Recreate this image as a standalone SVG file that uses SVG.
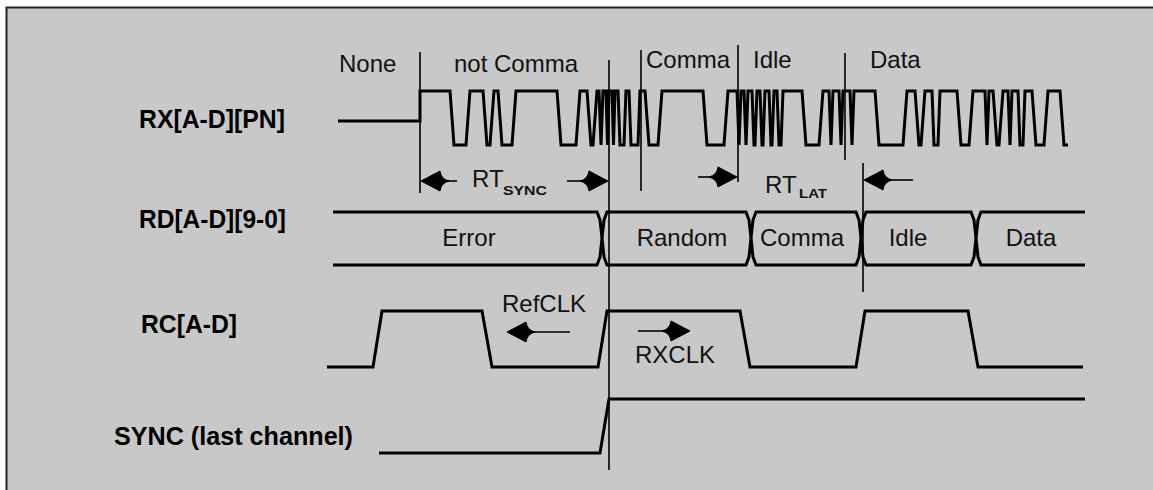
<svg xmlns="http://www.w3.org/2000/svg" xmlns:xlink="http://www.w3.org/1999/xlink" width="1153" height="490" viewBox="0 0 1153 490">
<style>
.wave{fill:none;stroke:#000;stroke-width:3;stroke-linejoin:miter}
.mark{fill:none;stroke:#000;stroke-width:1.6}
.shaft{fill:none;stroke:#000;stroke-width:1.6}
.head{fill:#000;stroke:#000;stroke-width:1}
.lbl{font-family:"Liberation Sans",Arial,sans-serif;font-weight:bold;font-size:25px;fill:#000}
.t{font-family:"Liberation Sans",Arial,sans-serif;font-size:24px;fill:#111}
.sub{font-family:"Liberation Sans",Arial,sans-serif;font-size:12px;font-weight:bold;fill:#111}
</style>
<defs>
<path id="head" class="head" d="M0,0 L-19,-10 Q-20,-2 -28,0 Q-20,2 -19,10 Z"/>
</defs>
<rect x="0" y="0" width="1153" height="490" fill="#fff"/>
<rect x="7" y="8" width="1146" height="482" fill="#c8c8c8"/>
<path d="M6.5,490 L6.5,7.5 L1153,7.5" fill="none" stroke="#222" stroke-width="2"/>

<g id="labels">
<text class="lbl" x="139" y="128" textLength="146" lengthAdjust="spacingAndGlyphs">RX[A-D][PN]</text>
<text class="lbl" x="139" y="228" textLength="147" lengthAdjust="spacingAndGlyphs">RD[A-D][9-0]</text>
<text class="lbl" x="141" y="333" textLength="96" lengthAdjust="spacingAndGlyphs">RC[A-D]</text>
<text class="lbl" x="114" y="445" textLength="239" lengthAdjust="spacingAndGlyphs">SYNC (last channel)</text>
</g>

<g id="rx">
<polyline class="wave" points="338,121 420,121 420,91 450,91 454,145 466,145 470,91 483,91 487,145 490,145 494,91 498,91 502,145 512,145 516,91 557,91 561,145 576,145 580,91 587,91 591,145 593,145 597,91 599,91 601,145 603,91 606,91 607.5,145 609,91 612,91 613.5,145 615,91 618,91 620,145 624,145 626,91 629,91 631,145 638,145 640,91 645,91 649,145 658,145 662,91 703,91 707,145 724,145 728,91 737,91 739,145 741,91 744,91 746,145 748,91 752,91 754,145 755,145 757,91 760,91 762,145 763,145 765,91 769,91 771,145 772,145 774,91 777,91 779,145 781,145 783,91 802,91 806,145 819,145 823,91 829,91 831,145 833,91 839,91 841,145 843,91 850,91 852,145 854,91 875,91 879,145 903,145 907,91 915,91 919,145 921,145 925,91 932,91 934,145 938,145 940,91 957,91 961,145 969,145 973,91 985,91 987,145 989,91 993,91 997,145 999,145 1003,91 1008,91 1010,145 1012,91 1018,91 1020,145 1023,145 1025,91 1032,91 1036,145 1044,145 1048,91 1060,91 1064,145 1068,145"/>
<text class="t" x="339" y="72">None</text>
<text class="t" x="454" y="72">not Comma</text>
<text class="t" x="646" y="68">Comma</text>
<text class="t" x="753" y="68">Idle</text>
<text class="t" x="870" y="68">Data</text>
</g>

<g id="rd">
<path class="wave" d="M333,212 L597,212 L600,220 L602,238 L604,220 L607,212 L746,212 L749,220 L751,238 L753,220 L756,212 L856,212 L859,220 L861,238 L863,220 L866,212 L971,212 L974,220 L976,238 L978,220 L981,212 L1085,212"/>
<path class="wave" d="M333,265 L597,265 L600,257 L602,238 L604,257 L607,265 L746,265 L749,257 L751,238 L753,257 L756,265 L856,265 L859,257 L861,238 L863,257 L866,265 L971,265 L974,257 L976,238 L978,257 L981,265 L1085,265"/>
<text class="t" x="469" y="246" text-anchor="middle">Error</text>
<text class="t" x="682" y="246" text-anchor="middle">Random</text>
<text class="t" x="802" y="246" text-anchor="middle">Comma</text>
<text class="t" x="908" y="246" text-anchor="middle">Idle</text>
<text class="t" x="1031" y="246" text-anchor="middle">Data</text>
</g>

<g id="rc">
<polyline class="wave" points="327,367 373,367 382,311 482,311 492,367 598,367 607,311 740,311 750,367 856,367 865,311 968,311 978,367 1083,367"/>
</g>

<g id="sync">
<polyline class="wave" points="379,453 600,453 609,399 1085,399"/>
</g>

<g id="connectors">
<line class="mark" x1="420" y1="52" x2="420" y2="193"/>
<line class="mark" x1="609" y1="60" x2="609" y2="470"/>
<line class="mark" x1="641" y1="50" x2="641" y2="191"/>
<line class="mark" x1="738" y1="45" x2="738" y2="182"/>
<line class="mark" x1="845" y1="53" x2="845" y2="160"/>
<line class="mark" x1="863" y1="163" x2="863" y2="292"/>
<line class="shaft" x1="457" y1="181" x2="445" y2="181"/>
<use xlink:href="#head" href="#head" transform="translate(421,181) rotate(180)"/>
<line class="shaft" x1="567" y1="181" x2="584" y2="181"/>
<use xlink:href="#head" href="#head" transform="translate(608,181)"/>
<line class="shaft" x1="698" y1="177" x2="713" y2="177"/>
<use xlink:href="#head" href="#head" transform="translate(737,177)"/>
<line class="shaft" x1="913" y1="180" x2="888" y2="180"/>
<use xlink:href="#head" href="#head" transform="translate(864,180) rotate(180)"/>
<line class="shaft" x1="570" y1="332" x2="531" y2="332"/>
<use xlink:href="#head" href="#head" transform="translate(507,332) rotate(180)"/>
<line class="shaft" x1="638" y1="331" x2="666" y2="331"/>
<use xlink:href="#head" href="#head" transform="translate(690,331)"/>
</g>

<g id="annotations">
<text class="t" x="472" y="187">RT</text>
<text class="sub" x="503" y="195" textLength="44" lengthAdjust="spacingAndGlyphs">SYNC</text>
<text class="t" x="765" y="193">RT</text>
<text class="sub" x="799" y="198" textLength="28" lengthAdjust="spacingAndGlyphs">LAT</text>
<text class="t" x="502" y="312">RefCLK</text>
<text class="t" x="635" y="363">RXCLK</text>
</g>
</svg>
